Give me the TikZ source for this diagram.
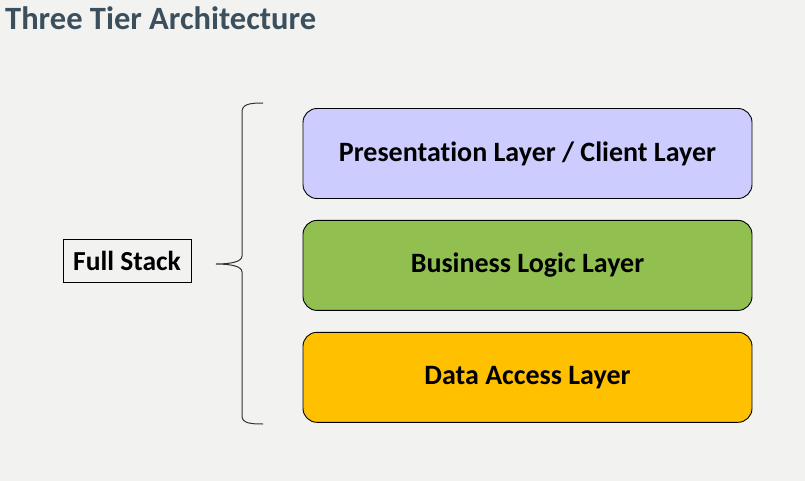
\documentclass[tikz,border=0pt]{standalone}
\usepackage{fontspec}
\setmainfont{Carlito}[Ligatures=NoCommon]
\usetikzlibrary{positioning}
\definecolor{bgcol}{RGB}{242,242,241}
\definecolor{titlecol}{RGB}{59,79,92}
\definecolor{presentcol}{RGB}{204,204,255}
\definecolor{logiccol}{RGB}{146,192,80}
\definecolor{datacol}{RGB}{255,192,0}

\tikzset{
  layer/.style={draw=black, line width=0.9pt, rounded corners=14pt,
    minimum width=449pt, minimum height=90pt, inner sep=0pt,
    font=\bfseries\fontsize{28}{32}\selectfont},
  stackbox/.style={draw=black, line width=0.9pt, minimum width=128pt,
    minimum height=43pt, inner sep=0pt,
    font=\bfseries\fontsize{27.5}{32}\selectfont}
}

\begin{document}
\begin{tikzpicture}[x=1pt,y=-1pt]
  \fill[bgcol] (0,0) rectangle (805,481);
  \useasboundingbox (0,0) rectangle (805,481);

  \node[anchor=base west, text=titlecol, inner sep=0pt,
    font=\bfseries\fontsize{32.5}{36}\selectfont] (title) at (5,30) {Three Tier Architecture};

  \node[layer, fill=presentcol] (present) at (527.5,153.5) {Presentation Layer / Client Layer};
  \node[layer, fill=logiccol, below=21pt of present] (logic) {Business Logic Layer};
  \node[layer, fill=datacol, below=21pt of logic] (dataacc) {Data Access Layer};

  \node[stackbox] (fullstack) at (127,260.5) {Full Stack};

  % curly brace
  \draw[black!80, line width=1pt]
    (263,103) .. controls (250,103) and (242,104) .. (242,112) -- (242,256)
    .. controls (242,262) and (230,264) .. (216,264)
    .. controls (230,264) and (242,266) .. (242,272) -- (242,416)
    .. controls (242,423) and (250,424) .. (263,424);
\end{tikzpicture}
\end{document}
